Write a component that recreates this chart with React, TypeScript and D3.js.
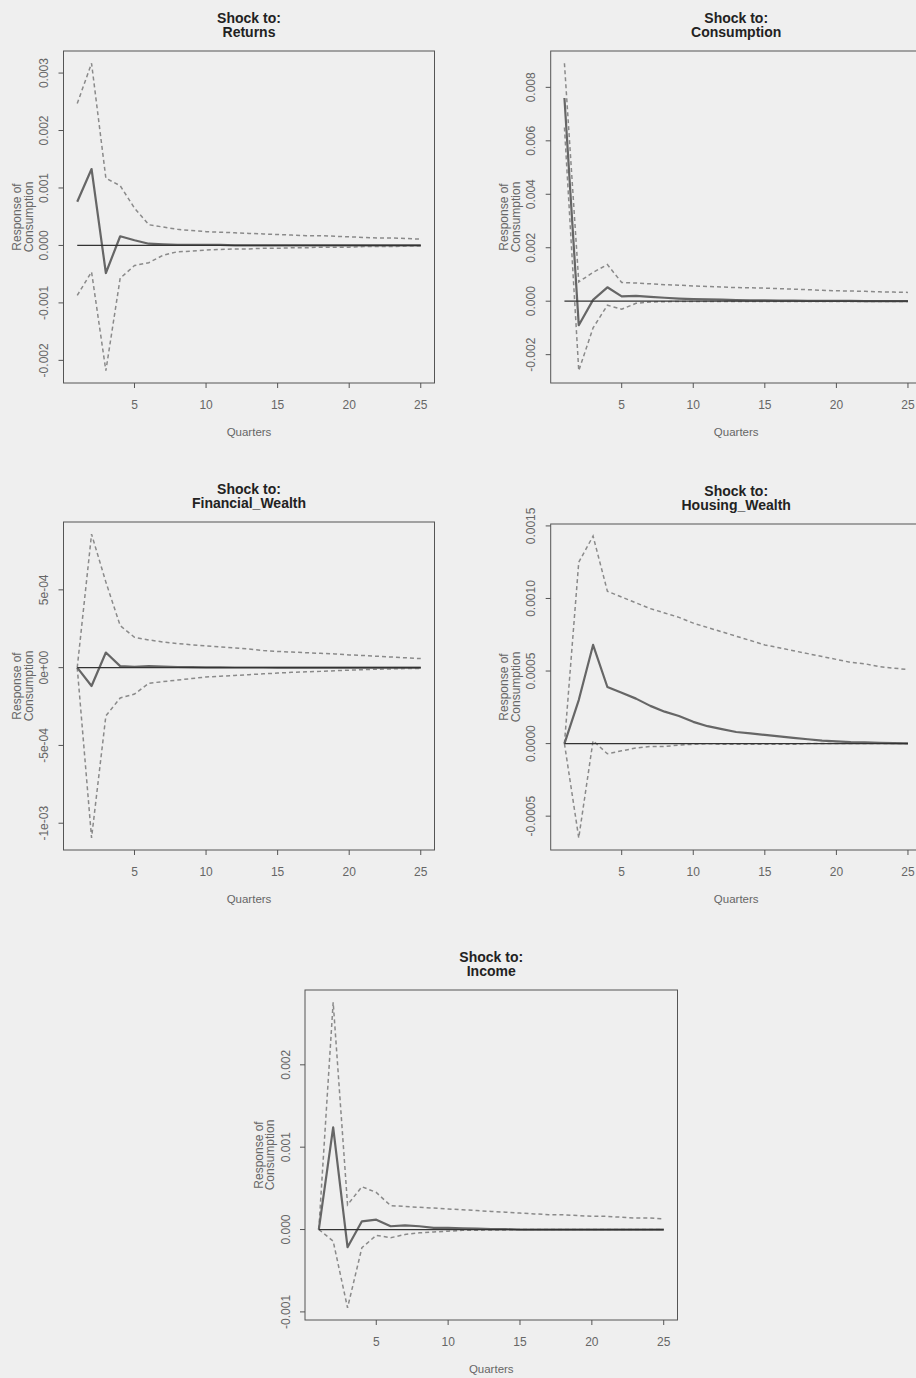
import React from "react";
import * as d3 from "d3";

// Forecast horizon (quarters) shared by every panel
const quarters: number[] = d3.range(1, 26);

// Response of Consumption to a shock in Returns
const returnsIrf = [0.00076, 0.00133, -0.00048, 0.00016, 0.00009, 0.00003, 0.00002, 0.00001, 0.00001, 0.00001, 0.00001, 0, 0, 0, 0, 0, 0, 0, 0, 0, 0, 0, 0, 0, 0];
const returnsUpper = [0.00247, 0.00317, 0.00117, 0.00104, 0.00065, 0.00036, 0.00032, 0.00028, 0.00026, 0.00024, 0.00023, 0.00022, 0.00021, 0.0002, 0.00019, 0.00018, 0.00017, 0.00017, 0.00016, 0.00015, 0.00014, 0.00013, 0.00013, 0.00012, 0.00011];
const returnsLower = [-0.00087, -0.00046, -0.00218, -0.00057, -0.00035, -0.0003, -0.00017, -0.00011, -0.0001, -0.00008, -0.00007, -0.00006, -0.00006, -0.00005, -0.00005, -0.00004, -0.00004, -0.00003, -0.00003, -0.00003, -0.00002, -0.00002, -0.00002, -0.00001, -0.00001];

// Response of Consumption to a shock in Consumption
const consIrf = [0.0076, -0.0009, 0.00005, 0.00052, 0.00018, 0.0002, 0.00016, 0.00013, 0.0001, 0.00008, 0.00007, 0.00006, 0.00004, 0.00003, 0.00003, 0.00002, 0.00002, 0.00001, 0.00001, 0.00001, 0.00001, 0, 0, 0, 0];
const consUpper = [0.0089, 0.00072, 0.00108, 0.00137, 0.0007, 0.00068, 0.00065, 0.00062, 0.0006, 0.00057, 0.00055, 0.00053, 0.00051, 0.0005, 0.00049, 0.00047, 0.00045, 0.00043, 0.00041, 0.00039, 0.00038, 0.00037, 0.00035, 0.00034, 0.00033];
const consLower = [0.0065, -0.0026, -0.001, -0.00015, -0.0003, -0.00008, -0.00003, -0.00002, -0.00001, -0.00001, -0.00001, -0.00001, -0.00001, -0.00001, -0.00001, -0.00001, -0.00001, -0.00001, -0.00001, -0.00001, -0.00001, -0.00001, -0.00001, -0.00001, -0.00001];

// Response of Consumption to a shock in Financial_Wealth
const finIrf = [0, -0.000118, 0.000097, 0.00001, 0.000005, 0.00001, 0.000006, 0.000004, 0.000003, 0.000002, 0.000002, 0.000001, 0.000001, 0.000001, 0, 0, 0, 0, 0, 0, 0, 0, 0, 0, 0];
const finUpper = [0, 0.000858, 0.00055, 0.00027, 0.000195, 0.000178, 0.000165, 0.000155, 0.000147, 0.00014, 0.000133, 0.000126, 0.00012, 0.00011, 0.000104, 0.0001, 0.000096, 0.000092, 0.000088, 0.000082, 0.000078, 0.000073, 0.000068, 0.000063, 0.000058];
const finLower = [0, -0.001094, -0.00031, -0.000195, -0.00017, -0.0001, -0.00009, -0.00008, -0.00007, -0.00006, -0.000055, -0.00005, -0.000045, -0.00004, -0.000035, -0.00003, -0.000027, -0.000024, -0.00002, -0.000016, -0.000013, -0.00001, -0.000008, -0.000006, -0.000005];

// Response of Consumption to a shock in Housing_Wealth
const houseIrf = [0, 0.0003, 0.00068, 0.00039, 0.00035, 0.00031, 0.00026, 0.00022, 0.00019, 0.00015, 0.00012, 0.0001, 0.00008, 0.00007, 0.00006, 0.00005, 0.00004, 0.00003, 0.00002, 0.000015, 0.00001, 0.000008, 0.000005, 0.000003, 0.000002];
const houseUpper = [0, 0.00125, 0.00143, 0.00105, 0.00101, 0.00097, 0.00093, 0.0009, 0.00087, 0.00083, 0.0008, 0.00077, 0.00074, 0.00071, 0.00068, 0.00066, 0.00064, 0.00062, 0.0006, 0.00058, 0.00056, 0.00055, 0.00053, 0.00052, 0.00051];
const houseLower = [0, -0.00065, 0.00002, -0.00007, -0.00005, -0.00003, -0.00002, -0.00002, -0.00001, -0.000005, 0, -0.000005, -0.000005, -0.000005, -0.000005, -0.000005, -0.000005, 0, 0, 0, 0, 0, 0, 0, 0];

// Response of Consumption to a shock in Income
const incIrf = [0, 0.00124, -0.000215, 0.0001, 0.00012, 0.00004, 0.00005, 0.00004, 0.00002, 0.00002, 0.000015, 0.00001, 0.000005, 0.000005, 0, 0, 0, 0, 0, 0, 0, 0, 0, 0, 0];
const incUpper = [0, 0.00276, 0.0003, 0.00052, 0.00045, 0.00029, 0.00028, 0.00027, 0.00026, 0.00025, 0.00024, 0.00023, 0.00022, 0.00021, 0.0002, 0.00019, 0.00018, 0.00018, 0.00017, 0.00016, 0.00016, 0.00015, 0.00014, 0.00014, 0.00013];
const incLower = [0, -0.00014, -0.00095, -0.00022, -0.00007, -0.0001, -0.00006, -0.00004, -0.00003, -0.00002, -0.00001, -0.00001, -0.000005, -0.000005, 0, 0, 0, 0, 0, 0, 0, 0, 0, 0, 0];

// Axis ticks
const xTicks = [5, 10, 15, 20, 25];
const returnsTicks = [-0.002, -0.001, 0, 0.001, 0.002, 0.003];
const returnsTickLabels = ["-0.002", "-0.001", "0.000", "0.001", "0.002", "0.003"];
const consTicks = [-0.002, 0, 0.002, 0.004, 0.006, 0.008];
const consTickLabels = ["-0.002", "0.000", "0.002", "0.004", "0.006", "0.008"];
const finTicks = [-0.001, -0.0005, 0, 0.0005];
const finTickLabels = ["-1e-03", "-5e-04", "0e+00", "5e-04"];
const houseTicks = [-0.0005, 0, 0.0005, 0.001, 0.0015];
const houseTickLabels = ["-0.0005", "0.0000", "0.0005", "0.0010", "0.0015"];
const incTicks = [-0.001, 0, 0.001, 0.002];
const incTickLabels = ["-0.001", "0.000", "0.001", "0.002"];

const shockNames = ["Returns", "Consumption", "Financial_Wealth", "Housing_Wealth", "Income"];

type Panel = {
  name: string;
  irf: number[];
  upper: number[];
  lower: number[];
  ticks: number[];
  tickLabels: string[];
  box: { left: number; right: number; top: number; bottom: number };
};

const panels: Panel[] = [
  { name: shockNames[0], irf: returnsIrf, upper: returnsUpper, lower: returnsLower, ticks: returnsTicks, tickLabels: returnsTickLabels, box: { left: 63.5, right: 434.5, top: 51, bottom: 383 } },
  { name: shockNames[1], irf: consIrf, upper: consUpper, lower: consLower, ticks: consTicks, tickLabels: consTickLabels, box: { left: 550.7, right: 921.7, top: 51, bottom: 383 } },
  { name: shockNames[2], irf: finIrf, upper: finUpper, lower: finLower, ticks: finTicks, tickLabels: finTickLabels, box: { left: 63.5, right: 434.5, top: 522, bottom: 850 } },
  { name: shockNames[3], irf: houseIrf, upper: houseUpper, lower: houseLower, ticks: houseTicks, tickLabels: houseTickLabels, box: { left: 550.7, right: 921.7, top: 524, bottom: 850 } },
  { name: shockNames[4], irf: incIrf, upper: incUpper, lower: incLower, ticks: incTicks, tickLabels: incTickLabels, box: { left: 305, right: 677.5, top: 990, bottom: 1320 } },
];

const FONT = "Liberation Sans, Arial, Helvetica, sans-serif";

// R-style 4% padding on each side of a data range
function padded(ext: [number, number]): [number, number] {
  const d = (ext[1] - ext[0]) * 0.04;
  return [ext[0] - d, ext[1] + d];
}

function IrfPanel({ p }: { p: Panel }) {
  const { left, right, top, bottom } = p.box;
  const x = d3.scaleLinear().domain(padded(d3.extent(quarters) as [number, number])).range([left, right]);
  const all = [...p.irf, ...p.upper, ...p.lower];
  const y = d3.scaleLinear().domain(padded(d3.extent(all) as [number, number])).range([bottom, top]);
  const line = d3
    .line<number>()
    .x((_, i) => x(quarters[i]))
    .y((v) => y(v));
  const cx = (left + right) / 2;
  const cy = (top + bottom) / 2;

  return (
    <g>
      <text x={cx} y={top - 28.5} textAnchor="middle" fontFamily={FONT} fontWeight="bold" fontSize={14} fill="#222">
        Shock to:
      </text>
      <text x={cx} y={top - 14.5} textAnchor="middle" fontFamily={FONT} fontWeight="bold" fontSize={14} fill="#222">
        {p.name}
      </text>

      <clipPath id={`clip-${p.name}`}>
        <rect x={left} y={top} width={right - left} height={bottom - top} />
      </clipPath>

      <g clipPath={`url(#clip-${p.name})`}>
        <path d={line(p.upper) || ""} fill="none" stroke="#8a8a8a" strokeWidth={1.5} strokeDasharray="4,3" />
        <path d={line(p.lower) || ""} fill="none" stroke="#8a8a8a" strokeWidth={1.5} strokeDasharray="4,3" />
        <path d={line(p.irf) || ""} fill="none" stroke="#666" strokeWidth={2.2} strokeLinejoin="round" />
        <line x1={x(quarters[0])} x2={x(quarters[quarters.length - 1])} y1={y(0)} y2={y(0)} stroke="#333" strokeWidth={1.2} />
      </g>

      <rect x={left} y={top} width={right - left} height={bottom - top} fill="none" stroke="#555" strokeWidth={1} />

      {xTicks.map((t) => (
        <g key={`x${t}`}>
          <line x1={x(t)} x2={x(t)} y1={bottom} y2={bottom + 5} stroke="#555" />
          <text x={x(t)} y={bottom + 26} textAnchor="middle" fontFamily={FONT} fontSize={12} fill="#666">
            {t}
          </text>
        </g>
      ))}

      {p.ticks.map((t, i) => (
        <g key={`y${i}`}>
          <line x1={left - 5} x2={left} y1={y(t)} y2={y(t)} stroke="#555" />
          <text
            transform={`translate(${left - 15.5},${y(t)}) rotate(-90)`}
            textAnchor="middle"
            fontFamily={FONT}
            fontSize={12}
            fill="#666"
          >
            {p.tickLabels[i]}
          </text>
        </g>
      ))}

      <text x={cx} y={bottom + 53} textAnchor="middle" fontFamily={FONT} fontSize={11.5} fill="#666">
        Quarters
      </text>
      <text transform={`translate(${left - 42.5},${cy}) rotate(-90)`} textAnchor="middle" fontFamily={FONT} fontSize={12} fill="#666">
        Response of
      </text>
      <text transform={`translate(${left - 31},${cy}) rotate(-90)`} textAnchor="middle" fontFamily={FONT} fontSize={12} fill="#666">
        Consumption
      </text>
    </g>
  );
}

export default function App() {
  return (
    <svg
      width={916}
      height={1378}
      style={{ position: "absolute", left: 0, top: 0, display: "block" }}
    >
      <rect x={0} y={0} width={916} height={1378} fill="#efefef" />
      {panels.map((p) => (
        <IrfPanel key={p.name} p={p} />
      ))}
    </svg>
  );
}
